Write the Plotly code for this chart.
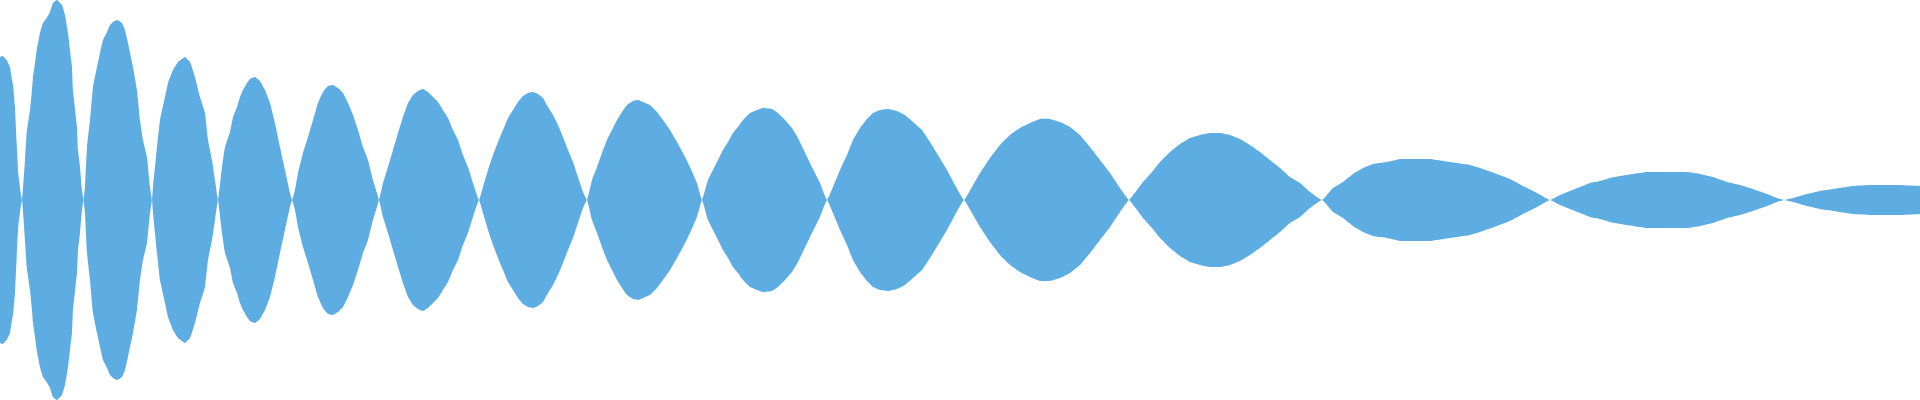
import plotly.graph_objects as go

# waveform envelope: sample position and half amplitude
sample_pos = [
    0, 2.7, 6.7, 10, 11.7, 13.3, 15, 16.7, 18.3, 20.7, 22,
    25, 26.7, 30, 31.7, 33, 35, 36.7, 40, 43, 46.7, 50, 53, 57, 62, 65, 68, 70, 72, 73, 77, 78, 80, 82, 83.5,
    85, 87, 90, 93, 97, 100, 103, 107, 110, 113, 117, 122, 125, 128, 133, 137, 140, 143, 147, 150, 152,
    153, 157, 160, 165, 168, 173, 178, 185, 190, 195, 200, 205, 208, 212, 215, 218,
    222, 225, 230, 233, 237, 240, 243, 247, 250, 255, 260, 265, 270, 275, 280, 285, 290, 292,
    295, 298, 303, 308, 313, 318, 323, 328, 333, 338, 343, 348, 353, 358, 363, 368, 373, 377, 379,
    383, 388, 393, 398, 403, 408, 413, 418, 423, 428, 433, 438, 443, 448, 453, 458, 463, 468, 473, 479,
    483, 488, 493, 498, 503, 508, 513, 518, 523, 528, 533, 538, 543, 548, 553, 558, 563, 568, 573, 578, 583, 587,
    592, 597, 602, 607, 612, 617, 622, 627, 633, 638, 643, 650, 657, 663, 670, 677, 683, 690, 697, 702,
    708, 713, 718, 723, 728, 733, 738, 743, 750, 757, 763, 772, 778, 785, 792, 798, 810, 820, 827,
    833, 840, 847, 853, 860, 867, 873, 880, 888, 897, 905, 913, 922, 930, 938, 947, 955, 964,
    972, 980, 990, 1000, 1010, 1020, 1030, 1040, 1050, 1060, 1070, 1080, 1090, 1100, 1110, 1120, 1129,
    1137, 1143, 1152, 1160, 1170, 1180, 1190, 1200, 1210, 1220, 1230, 1240, 1250, 1260, 1270, 1280, 1290, 1300, 1310, 1322,
    1333, 1343, 1353, 1363, 1373, 1387, 1400, 1413, 1430, 1443, 1457, 1470, 1483, 1497, 1510, 1523, 1537, 1550,
    1560, 1570, 1580, 1590, 1600, 1610, 1620, 1633, 1647, 1667, 1687, 1700, 1713, 1727, 1740, 1753, 1767, 1777, 1784,
    1793, 1807, 1820, 1833, 1853, 1870, 1900, 1920,
]

amplitude = [
    143, 144, 140, 133, 122, 113, 93, 57, 27, 7, 0,
    40, 67, 90, 107, 123, 137, 150, 167, 177, 182, 188, 197, 200, 195, 185, 167, 150, 133, 110, 73, 50, 33, 10, 0,
    13, 53, 80, 113, 133, 147, 160, 168, 175, 178, 180, 177, 170, 157, 133, 110, 80, 60, 43, 13, 0,
    13, 53, 80, 103, 117, 130, 138, 143, 138, 123, 103, 87, 60, 40, 20, 0,
    33, 53, 68, 83, 93, 103, 110, 117, 121, 123, 119, 110, 97, 77, 53, 30, 7, 0,
    10, 27, 47, 63, 80, 97, 108, 114, 115, 112, 107, 97, 85, 70, 53, 40, 20, 7, 0,
    17, 33, 50, 67, 83, 97, 105, 109, 111, 108, 103, 98, 90, 82, 70, 60, 45, 33, 17, 0,
    13, 30, 45, 58, 70, 82, 90, 98, 104, 107, 108, 106, 102, 93, 85, 75, 63, 50, 38, 23, 8, 0,
    20, 33, 47, 60, 70, 80, 88, 95, 99, 100, 98, 95, 88, 80, 70, 58, 47, 33, 17, 0,
    20, 30, 40, 50, 58, 67, 73, 80, 87, 90, 92, 91, 87, 80, 72, 62, 37, 17, 0,
    13, 30, 45, 60, 72, 81, 87, 90, 91, 89, 85, 78, 70, 58, 45, 30, 15, 0,
    13, 27, 42, 55, 65, 72, 77, 81, 81, 78, 73, 65, 53, 40, 27, 12, 0,
    10, 18, 28, 38, 48, 56, 62, 65, 67, 67, 65, 61, 55, 48, 40, 32, 23, 17, 8, 0,
    12, 18, 26, 32, 36, 38, 41, 41, 41, 39, 37, 35, 31, 26, 21, 14, 7, 0,
    5, 9, 13, 17, 19, 22, 24, 26, 28, 28, 28, 26, 23, 18, 15, 11, 6, 2, 0,
    2, 6, 9, 11, 14, 15, 15, 14,
]

fill_color = "#5DADE2"

fig = go.Figure()
fig.add_trace(go.Scatter(x=sample_pos, y=amplitude, mode="lines",
                         line=dict(width=0, color=fill_color, shape="spline", smoothing=0.3),
                         hoverinfo="skip"))
fig.add_trace(go.Scatter(x=sample_pos, y=[-a for a in amplitude], mode="lines",
                         line=dict(width=0, color=fill_color, shape="spline", smoothing=0.3),
                         fill="tonexty", fillcolor=fill_color, hoverinfo="skip"))

fig.update_layout(
    width=1920, height=400,
    margin=dict(l=0, r=0, t=0, b=0),
    paper_bgcolor="white", plot_bgcolor="white",
    showlegend=False,
    xaxis=dict(range=[0, 1920], visible=False),
    yaxis=dict(range=[-200, 200], visible=False),
)

# page body has a default 8px margin, drop it so the plot sits flush
fig.write_html("out.html", config={"displayModeBar": False},
               post_script="document.body.style.margin='0';")
